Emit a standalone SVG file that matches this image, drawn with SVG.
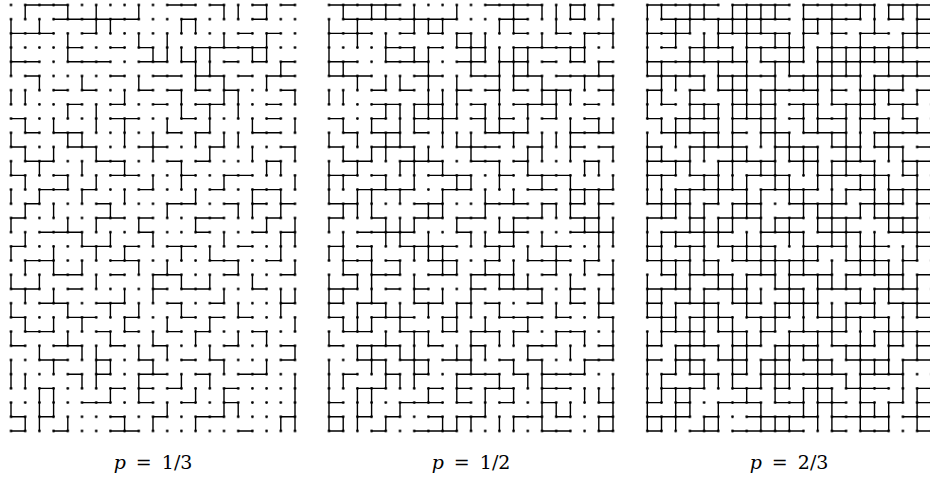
<svg xmlns="http://www.w3.org/2000/svg" width="930" height="482" viewBox="0 0 930 482">
<style>
.e{fill:none;stroke:#000;stroke-width:0.098;stroke-linecap:butt}
.lbl{font-family:"DejaVu Serif",serif;font-size:19px;fill:#000;word-spacing:4px}
</style>
<defs>
<pattern id="dots" patternUnits="userSpaceOnUse" width="14.2" height="14.2" x="-7.1" y="-7.1">
<circle cx="7.1" cy="7.1" r="1.4" fill="#000"/>
</pattern>
<path id="L0" class="e" d="M1 0h3M11 0h2M14 0h1M17 0h1M19 0h1M3 1h6M12 1h1M17 1h1M0 2h3M5 2h1M16 2h1M18 2h1M4 3h1M7 3h1M9 3h1M13 3h5M0 4h2M4 4h3M9 4h2M12 4h1M15 4h1M17 4h1M19 4h1M1 5h1M7 5h1M10 5h2M13 5h2M16 5h1M18 5h2M3 6h1M5 6h1M9 6h1M11 6h1M13 6h1M15 6h1M19 6h1M4 7h1M7 7h1M10 7h1M13 7h2M18 7h1M0 8h1M7 8h2M12 8h1M18 8h1M1 9h1M3 9h2M11 9h1M13 9h1M17 9h2M0 10h1M4 10h2M9 10h2M14 10h1M19 10h1M1 11h2M6 11h2M11 11h1M13 11h1M18 11h1M0 12h1M3 12h1M7 12h2M12 12h1M15 12h2M2 13h2M5 13h1M9 13h1M14 13h1M17 13h2M1 14h1M6 14h1M11 14h2M15 14h1M17 14h1M19 14h1M0 15h1M6 15h2M9 15h1M13 15h2M18 15h1M2 16h3M9 16h1M13 16h1M17 16h1M19 16h1M0 17h1M5 17h2M8 17h1M11 17h2M16 17h1M1 18h2M7 18h2M14 18h2M18 18h1M3 19h2M7 19h1M10 19h2M15 19h1M19 19h1M0 20h2M4 20h1M10 20h1M12 20h2M17 20h1M2 21h2M6 21h2M11 21h1M14 21h1M19 21h1M0 22h1M4 22h2M8 22h1M12 22h1M14 22h1M16 22h1M1 23h2M6 23h1M8 23h1M11 23h1M13 23h1M17 23h1M0 24h1M3 24h2M7 24h1M10 24h1M15 24h1M19 24h1M2 25h2M6 25h1M9 25h1M12 25h1M14 25h1M19 25h1M4 26h1M6 26h1M9 26h2M13 26h1M16 26h2M2 27h1M7 27h1M9 27h1M11 27h1M15 27h1M5 28h2M9 28h1M12 28h1M15 28h1M0 29h1M2 29h1M7 29h1M10 29h1M13 29h2M19 29h1M0 30h1M3 30h1M7 30h2M16 30h1
M1 0v1M4 0v1M6 0v1M9 0v1M15 0v1M16 0v1M18 0v1M0 1v1M2 1v1M6 1v1M7 1v1M12 1v1M13 1v1M0 2v1M4 2v1M9 2v1M11 2v1M15 2v1M18 2v1M0 3v1M4 3v1M10 3v1M11 3v1M12 3v1M13 3v1M14 3v1M17 3v1M18 3v1M0 4v1M13 4v1M14 4v1M19 4v1M2 5v1M5 5v1M9 5v1M13 5v1M15 5v1M18 5v1M0 6v1M1 6v1M8 6v1M12 6v1M15 6v1M16 6v1M20 6v1M4 7v1M6 7v1M12 7v1M14 7v1M16 7v1M1 8v1M3 8v1M6 8v1M8 8v1M11 8v1M14 8v1M17 8v1M20 8v1M0 9v1M4 9v1M5 9v1M8 9v1M10 9v1M13 9v1M15 9v1M16 9v1M1 10v1M3 10v1M6 10v1M10 10v1M14 10v1M17 10v1M20 10v1M0 11v1M2 11v1M5 11v1M8 11v1M12 11v1M18 11v1M19 11v1M1 12v1M4 12v1M6 12v1M10 12v1M12 12v1M15 12v1M20 12v1M0 13v1M2 13v1M5 13v1M8 13v1M13 13v1M17 13v1M19 13v1M1 14v1M3 14v1M7 14v1M11 14v1M16 14v1M17 14v1M19 14v1M0 15v1M4 15v1M6 15v1M9 15v1M13 15v1M18 15v1M20 15v1M1 16v1M5 16v1M7 16v1M10 16v1M15 16v1M19 16v1M20 16v1M0 17v1M3 17v1M6 17v1M8 17v1M12 17v1M14 17v1M19 17v1M1 18v1M3 18v1M5 18v1M9 18v1M11 18v1M16 18v1M20 18v1M0 19v1M2 19v1M6 19v1M10 19v1M12 19v1M14 19v1M17 19v1M1 20v1M3 20v1M8 20v1M10 20v1M15 20v1M19 20v1M20 20v1M0 21v1M4 21v1M7 21v1M9 21v1M12 21v1M16 21v1M19 21v1M1 22v1M3 22v1M5 22v1M8 22v1M11 22v1M14 22v1M20 22v1M0 23v1M4 23v1M7 23v1M10 23v1M13 23v1M16 23v1M18 23v1M2 24v1M5 24v1M6 24v1M9 24v1M11 24v1M14 24v1M20 24v1M0 25v1M3 25v1M6 25v1M7 25v1M10 25v1M15 25v1M18 25v1M0 26v1M1 26v1M5 26v1M6 26v1M9 26v1M12 26v1M14 26v1M20 26v1M2 27v1M3 27v1M7 27v1M9 27v1M13 27v1M15 27v1M20 27v1M0 28v1M2 28v1M3 28v1M11 28v1M15 28v1M16 28v1M20 28v1M1 29v1M2 29v1M4 29v1M8 29v1M10 29v1M13 29v1M19 29v1M20 29v1"/>
<path id="L1" class="e" d="M0 0h1M4 0h1M13 0h1M1 1h2M13 1h1M7 2h1M9 2h1M13 2h1M19 2h1M5 3h1M10 3h1M13 4h1M0 5h1M2 5h1M6 5h1M17 5h1M16 6h1M3 7h1M6 7h1M15 7h1M3 8h1M6 8h1M10 8h1M15 8h1M6 9h1M12 9h1M19 9h1M3 10h1M11 10h1M17 10h1M5 11h1M10 11h1M1 12h1M9 12h1M14 12h1M4 13h1M8 13h1M15 13h1M19 13h1M0 14h1M7 14h1M13 14h1M3 15h1M10 15h1M17 15h1M5 16h1M12 16h1M18 16h1M2 17h1M7 17h1M15 17h1M4 18h1M11 18h1M16 18h1M1 19h1M8 19h1M12 19h1M6 20h1M14 20h1M0 21h1M9 21h1M17 21h1M3 22h1M13 22h1M19 22h1M5 23h1M10 23h1M16 23h1M2 24h1M14 24h1M5 25h1M8 25h1M18 25h1M1 26h1M11 26h1M15 26h1M3 27h1M12 27h1M16 27h1M0 28h1M7 28h1M19 28h1M4 29h1M9 29h1M16 29h1M6 30h1M15 30h1M19 30h1
M3 0v1M13 0v1M17 0v1M19 0v1M8 1v1M16 1v1M20 1v1M2 2v1M10 2v1M20 2v1M6 3v1M7 3v1M1 4v1M7 4v1M10 4v1M12 4v1M4 5v1M7 5v1M12 5v1M20 5v1M7 6v1M9 6v1M17 6v1M5 7v1M7 7v1M8 7v1M9 7v1M11 7v1M5 8v1M12 8v1M19 8v1M2 9v1M9 9v1M17 9v1M4 10v1M7 10v1M15 10v1M6 11v1M14 11v1M0 12v1M9 12v1M17 12v1M3 13v1M11 13v1M18 13v1M2 14v1M8 14v1M15 14v1M5 15v1M12 15v1M19 15v1M4 16v1M11 16v1M13 16v1M1 17v1M7 17v1M16 17v1M8 18v1M13 18v1M18 18v1M3 19v1M13 19v1M20 19v1M0 20v1M6 20v1M17 20v1M2 21v1M5 21v1M10 21v1M2 22v1M9 22v1M6 23v1M12 23v1M20 23v1M3 24v1M10 24v1M17 24v1M4 25v1M13 25v1M4 26v1M15 26v1M0 27v1M11 27v1M18 27v1M19 27v1M5 28v1M17 28v1M0 29v1M9 29v1M12 29v1M15 29v1"/>
<path id="L2" class="e" d="M6 0h4M15 0h1M18 0h1M9 1h1M11 1h1M14 1h1M19 1h1M6 2h1M8 2h1M11 2h1M15 2h1M1 3h1M3 3h1M8 3h1M12 3h1M18 3h2M2 4h2M8 4h1M14 4h1M16 4h1M18 4h1M3 5h1M5 5h1M8 5h1M12 5h1M0 6h1M6 6h1M8 6h1M10 6h1M17 6h1M1 7h1M8 7h1M11 7h1M17 7h1M2 8h1M4 8h1M13 8h1M16 8h1M2 9h1M8 9h2M16 9h1M6 10h1M13 10h1M16 10h1M0 11h1M8 11h1M14 11h2M19 11h1M4 12h1M13 12h1M18 12h1M6 13h1M10 13h2M2 14h1M4 14h1M10 14h1M16 14h1M1 15h1M5 15h1M12 15h1M16 15h1M1 16h1M8 16h1M10 16h1M14 16h1M3 17h1M13 17h1M19 17h1M0 18h1M6 18h1M9 18h2M5 19h1M14 19h1M16 19h2M2 20h1M5 20h1M9 20h1M16 20h1M18 20h1M4 21h1M10 21h1M15 21h1M18 21h1M1 22h1M7 22h1M9 22h1M15 22h1M3 23h1M12 23h1M18 23h2M6 24h1M9 24h1M11 24h1M13 24h1M17 24h1M0 25h1M11 25h1M15 25h2M3 26h1M8 26h1M12 26h1M1 27h1M6 27h1M14 27h1M19 27h1M2 28h1M10 28h1M13 28h1M17 28h1M1 29h1M8 29h1M11 29h1M15 29h1M18 29h1M4 30h1M9 30h2M13 30h1
M0 0v1M7 0v1M8 0v1M11 0v1M3 1v1M5 1v1M11 1v1M19 1v1M5 2v1M7 2v1M13 2v1M19 2v1M3 3v1M8 3v1M15 3v1M16 3v1M3 4v1M5 4v1M9 4v1M15 4v1M17 4v1M1 5v1M6 5v1M11 5v1M16 5v1M3 6v1M6 6v1M13 6v1M19 6v1M0 7v1M3 7v1M15 7v1M18 7v1M2 8v1M9 8v1M15 8v1M6 9v1M14 9v1M20 9v1M0 10v1M9 10v1M11 10v1M12 10v1M18 10v1M3 11v1M9 11v1M11 11v1M13 11v1M16 11v1M5 12v1M7 12v1M13 12v1M16 12v1M19 12v1M1 13v1M7 13v1M10 13v1M14 13v1M16 13v1M4 14v1M6 14v1M12 14v1M13 14v1M20 14v1M3 15v1M8 15v1M10 15v1M14 15v1M17 15v1M0 16v1M2 16v1M8 16v1M14 16v1M16 16v1M4 17v1M9 17v1M11 17v1M15 17v1M18 17v1M2 18v1M4 18v1M10 18v1M15 18v1M17 18v1M5 19v1M7 19v1M9 19v1M18 19v1M19 19v1M4 20v1M7 20v1M11 20v1M12 20v1M16 20v1M1 21v1M11 21v1M13 21v1M14 21v1M18 21v1M4 22v1M6 22v1M13 22v1M15 22v1M17 22v1M18 22v1M1 23v1M3 23v1M8 23v1M15 23v1M17 23v1M19 23v1M0 24v1M7 24v1M12 24v1M15 24v1M19 24v1M2 25v1M8 25v1M9 25v1M12 25v1M16 25v1M17 25v1M8 26v1M10 26v1M18 26v1M1 27v1M12 27v1M8 28v1M12 28v1M13 28v1M19 28v1M5 29v1M17 29v1"/>
</defs>
<g id="grid1" transform="translate(11,5)">
<rect x="-7.1" y="-7.1" width="298.2" height="440.2" fill="url(#dots)"/>
</g>
<g id="grid2" transform="translate(329,5)">
<rect x="-7.1" y="-7.1" width="298.2" height="440.2" fill="url(#dots)"/>
</g>
<g id="grid3" transform="translate(647.3,5)">
<rect x="-7.1" y="-7.1" width="298.2" height="440.2" fill="url(#dots)"/>
</g>
<g id="connectors">
<g id="edges1" transform="translate(11,5) scale(14.2)"><use href="#L0"/></g>
<g id="edges2" transform="translate(329,5) scale(14.2)"><use href="#L0"/><use href="#L1"/></g>
<g id="edges3" transform="translate(647.3,5) scale(14.2)"><use href="#L0"/><use href="#L1"/><use href="#L2"/></g>
</g>
<g id="labels">
<text class="lbl" x="153" y="469" text-anchor="middle"><tspan font-style="italic">p</tspan> = 1/3</text>
<text class="lbl" x="471" y="469" text-anchor="middle"><tspan font-style="italic">p</tspan> = 1/2</text>
<text class="lbl" x="789" y="469" text-anchor="middle"><tspan font-style="italic">p</tspan> = 2/3</text>
</g>
</svg>
